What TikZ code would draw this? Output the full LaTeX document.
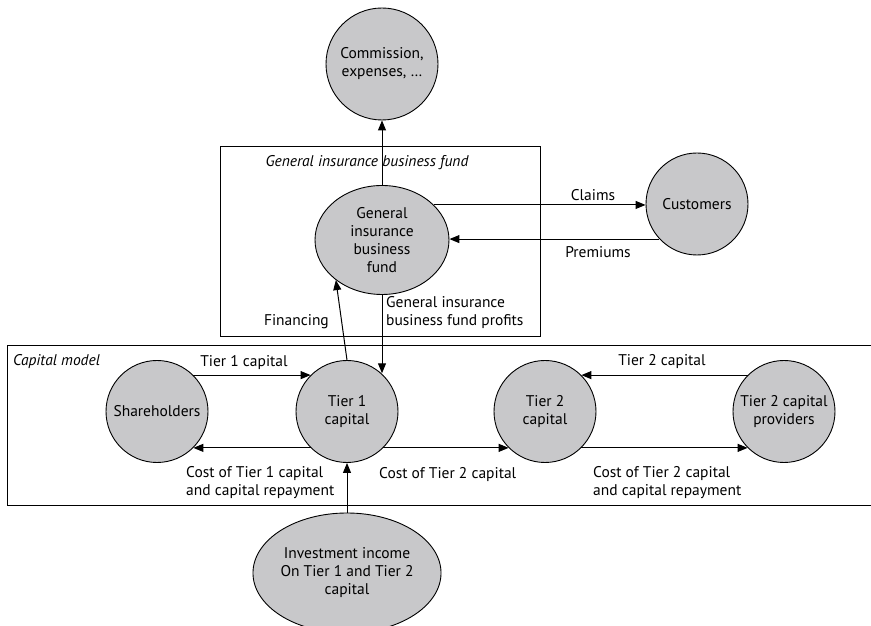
\documentclass[tikz,border=0pt]{standalone}
\usepackage{fontspec}
\setmainfont{PT Sans}
\usetikzlibrary{arrows.meta}
\usetikzlibrary{shapes.geometric}
\definecolor{bubblegray}{RGB}{200,200,202}

\tikzset{
	bubble/.style={circle,draw,line width=0.9pt,fill=bubblegray,inner sep=0pt,align=center,minimum size=102pt},
	oval/.style={ellipse,draw,line width=0.9pt,fill=bubblegray,inner sep=0pt,align=center},
	flow/.style={line width=1pt,-{Triangle[length=10pt,width=8pt]}},
	lbl/.style={align=left,inner sep=0pt},
}

\begin{document}
\begin{tikzpicture}[x=1pt,y=1pt,every node/.style={font=\fontsize{15.5}{18}\selectfont}]
			\useasboundingbox (0,0) rectangle (871,626);
			%recuadros
			\draw[line width=0.9pt] (220,290) rectangle (540,480);
			\draw[line width=0.9pt] (7,121) rectangle (880,281);
			\node[lbl] (gibox) at (367,463) {\itshape General insurance business fund};
			\node[lbl,anchor=west] (capbox) at (13,264) {\itshape Capital model};
			%nodos
			\node[bubble,minimum size=112pt] (comm) at (382,562) {Commission,\\expenses, …};
			\node[oval,minimum width=134pt,minimum height=109pt] (gifund) at (382,386) {General\\insurance\\business\\fund};
			\node[bubble] (cust) at (697,422) {Customers};
			\node[bubble] (share) at (157,214.5) {Shareholders};
			\node[bubble] (tier1) at (347,214.5) {Tier 1\\capital};
			\node[bubble] (tier2) at (545,214.5) {Tier 2\\capital};
			\node[bubble] (prov) at (784,214.5) {Tier 2 capital\\providers};
			\node[oval,minimum width=172pt,minimum height=120pt] (invest) at (347,53) {Investment income\\On Tier 1 and Tier 2\\capital};
			%flechas del fondo
			\draw[flow] (gifund.north) -- (comm.south);
			\draw[flow] (gifund.34) -- (gifund.34 -| cust.west);
			\draw[flow] (cust.223) -- (cust.223 -| gifund.east);
			\draw[flow] (tier1.north) -- (gifund.221);
			\draw[flow] (gifund.south) -- (gifund.south |- tier1.48);
			\node[lbl] (claims) at (593,431) {Claims};
			\node[lbl] (prem) at (598,374) {Premiums};
			\node[lbl,anchor=east] (fin) at (329,304) {Financing};
			\node[lbl,anchor=west] (profits) at (386,313) {General insurance\\business fund profits};
			%flechas del modelo de capital
			\draw[flow] (share.45) -- (tier1.135);
			\draw[flow] (tier1.225) -- (share.-45);
			\draw[flow] (tier1.-45) -- (tier2.225);
			\draw[flow] (prov.135) -- (tier2.45);
			\draw[flow] (tier2.-45) -- (prov.225);
			\draw[flow] (invest.north) -- (tier1.south);
			\node[lbl] (t1cap) at (244,263) {Tier 1 capital};
			\node[lbl,anchor=west] (t1cost) at (186,143) {Cost of Tier 1 capital\\and capital repayment};
			\node[lbl,anchor=west] (t2cost) at (379,151) {Cost of Tier 2 capital};
			\node[lbl] (t2cap) at (662,264) {Tier 2 capital};
			\node[lbl,anchor=west] (t2repay) at (593,143) {Cost of Tier 2 capital\\and capital repayment};
		\end{tikzpicture}
\end{document}
